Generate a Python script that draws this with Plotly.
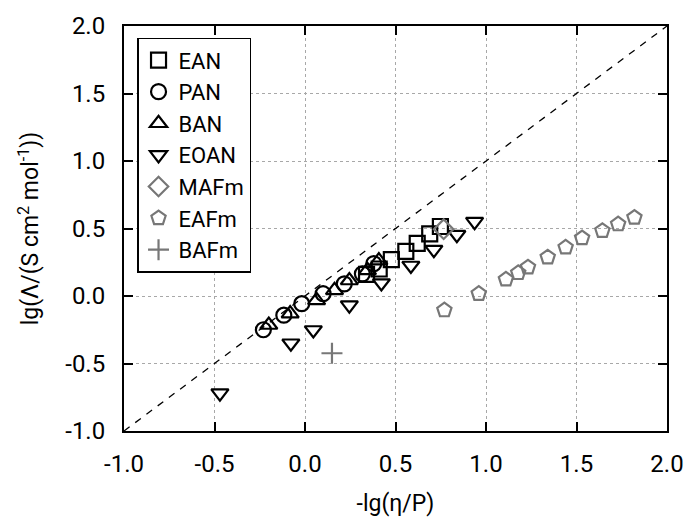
import plotly.graph_objects as go

# Data
ean_x = [0.34, 0.41, 0.477, 0.557, 0.62, 0.689, 0.748]
ean_y = [0.16, 0.20, 0.27, 0.33, 0.39, 0.46, 0.515]

pan_x = [-0.23, -0.117, -0.018, 0.10, 0.217, 0.317, 0.38]
pan_y = [-0.25, -0.142, -0.057, 0.017, 0.09, 0.164, 0.24]

ban_x = [-0.20, -0.082, 0.064, 0.163, 0.245, 0.345, 0.408]
ban_y = [-0.215, -0.13, -0.032, 0.042, 0.115, 0.19, 0.262]

eoan_x = [-0.47, -0.078, 0.046, 0.245, 0.422, 0.585, 0.712, 0.839, 0.937]
eoan_y = [-0.72, -0.35, -0.252, -0.068, 0.096, 0.226, 0.343, 0.454, 0.551]

mafm_x = [0.766]
mafm_y = [0.495]

eafm_x = [0.77, 0.96, 1.11, 1.178, 1.232, 1.341, 1.44, 1.531, 1.643, 1.73, 1.82]
eafm_y = [-0.105, 0.017, 0.123, 0.171, 0.213, 0.287, 0.36, 0.429, 0.483, 0.532, 0.581]

bafm_x = [0.149]
bafm_y = [-0.424]

diag = [-1.0, 2.0]
ticks = [-1.0, -0.5, 0.0, 0.5, 1.0, 1.5, 2.0]
tick_text = ["-1.0", "-0.5", "0.0", "0.5", "1.0", "1.5", "2.0"]

BLACK = "#000000"
GREY = "#777777"
FONT = "Roboto"

series = [
    ("EAN", ean_x, ean_y, "square-open", BLACK, 15),
    ("PAN", pan_x, pan_y, "circle-open", BLACK, 15),
    ("BAN", ban_x, ban_y, "triangle-up-open", BLACK, 15),
    ("EOAN", eoan_x, eoan_y, "triangle-down-open", BLACK, 15),
    ("MAFm", mafm_x, mafm_y, "diamond-open", GREY, 15),
    ("EAFm", eafm_x, eafm_y, "pentagon-open", GREY, 15),
    ("BAFm", bafm_x, bafm_y, "cross-thin-open", GREY, 15),
]

fig = go.Figure()
fig.add_trace(go.Scatter(x=diag, y=diag, mode="lines",
                         line=dict(color=BLACK, width=1.3, dash="7px,7px"),
                         showlegend=False, hoverinfo="skip"))
for name, xs, ys, sym, col, sz in series:
    fig.add_trace(go.Scatter(
        x=xs, y=ys, mode="markers", name=name,
        marker=dict(symbol=sym, size=sz, color=col,
                    line=dict(color=col, width=2.2)),
    ))

axis_common = dict(
    range=[-1.0, 2.0], tickvals=ticks, ticktext=tick_text,
    showline=True, linecolor=BLACK, linewidth=2, mirror="allticks",
    ticks="inside", ticklen=9, tickwidth=1.5, tickcolor=BLACK,
    showgrid=True, gridcolor="#a8a8a8", griddash="dot", gridwidth=1,
    zeroline=False, tickfont=dict(family=FONT, size=24, color=BLACK),
)

fig.update_xaxes(**axis_common,
                 title=dict(text="-lg(η/P)", font=dict(family=FONT, size=23, color=BLACK),
                            standoff=18),
                 ticklabelstandoff=10)
fig.update_yaxes(**axis_common,
                 title=dict(text="lg(Λ/(S cm<sup>2</sup> mol<sup>-1</sup>))",
                            font=dict(family=FONT, size=23, color=BLACK), standoff=20),
                 ticklabelstandoff=12)

fig.update_layout(
    width=696, height=524,
    margin=dict(l=124, r=20, t=22, b=93),
    paper_bgcolor="white", plot_bgcolor="white",
    font=dict(family=FONT, size=22, color=BLACK),
    showlegend=True,
    legend=dict(x=0.024, y=0.971, xanchor="left", yanchor="top",
                bgcolor="white", bordercolor=BLACK, borderwidth=1.5,
                font=dict(family=FONT, size=22, color=BLACK),
                tracegroupgap=0, itemwidth=30),
)

fig.write_html("out.html")
